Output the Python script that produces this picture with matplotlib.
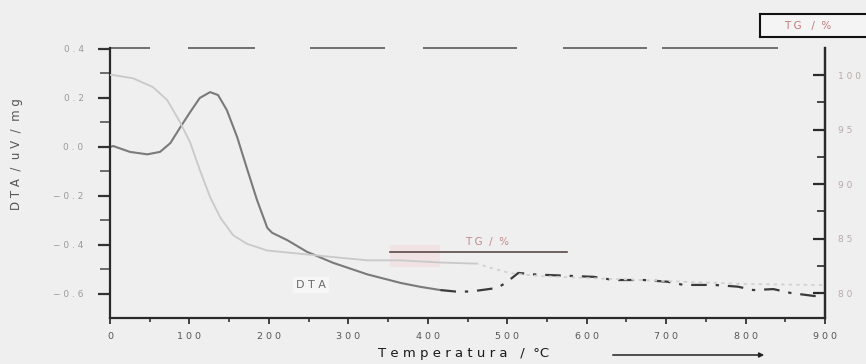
import matplotlib
matplotlib.use("Agg")
import matplotlib.pyplot as plt
from matplotlib.patches import Rectangle, FancyArrowPatch
from matplotlib.lines import Line2D
from matplotlib.ticker import MultipleLocator, FixedLocator

# ---- data -------------------------------------------------------------
temp_dta = [0, 4, 25, 47, 63, 76, 88, 101, 113, 126, 136, 147, 160, 173,
            185, 198, 204, 223, 248, 281, 324, 366, 391, 416]
dta = [0.0, 0.004, -0.02, -0.03, -0.02, 0.016, 0.078, 0.143, 0.2, 0.224,
       0.212, 0.151, 0.041, -0.094, -0.216, -0.33, -0.35, -0.38, -0.428,
       -0.473, -0.52, -0.555, -0.571, -0.584]

temp_dta_tail = [416, 435, 454, 488, 500, 514, 533, 570, 609, 634, 672, 702,
                 722, 760, 790, 810, 835, 857, 886, 900]
dta_tail = [-0.584, -0.59, -0.59, -0.575, -0.55, -0.514, -0.52, -0.525,
            -0.53, -0.543, -0.543, -0.55, -0.563, -0.563, -0.57, -0.584,
            -0.58, -0.596, -0.608, -0.61]

temp_tg = [0, 4, 29, 54, 72, 88, 101, 113, 126, 139, 155, 173, 198, 240,
           281, 324, 366, 416, 460]
tg = [100.0, 100.0, 99.7, 98.9, 97.7, 95.7, 93.8, 91.3, 88.8, 86.9, 85.3,
      84.5, 83.9, 83.6, 83.3, 83.0, 83.0, 82.8, 82.7]

temp_tg_tail = [460, 480, 504, 540, 600, 700, 800, 900]
tg_tail = [82.75, 82.29, 81.83, 81.56, 81.38, 81.1, 80.83, 80.73]

x_ticks = [0, 100, 200, 300, 400, 500, 600, 700, 800, 900]
dta_ticks = [0.4, 0.2, 0.0, -0.2, -0.4, -0.6]
tg_ticks = [100, 95, 90, 85, 80]


def spaced(s):
    return " ".join(s)


# ---- figure -----------------------------------------------------------
bg = "#efefef"
W, H = 866, 364
fig = plt.figure(figsize=(W / 100, H / 100), dpi=100, facecolor=bg)
ax = fig.add_axes([110 / W, 1 - 318 / H, 715 / W, 270 / H], facecolor=bg)
ax2 = ax.twinx()

# curves
ax.plot(temp_dta, dta, color="#7a7a7a", lw=1.5, solid_capstyle="round")
ax.plot(temp_dta_tail, dta_tail, color="#3a3a3a", lw=1.6,
        dashes=(7, 4, 1.5, 4))
ax2.plot(temp_tg, tg, color="#c9c9c9", lw=1.3)
ax2.plot(temp_tg_tail, tg_tail, color="#cfcfcf", lw=1.2, dashes=(2, 2.5))

# limits
ax.set_xlim(0, 900)
ax.set_ylim(-0.698, 0.404)
ax2.set_ylim(77.71, 102.48)

# spines
ax.spines["top"].set_visible(False)
ax2.spines["top"].set_visible(False)
for s in ("left", "bottom", "right"):
    ax.spines[s].set_color("#2a2a2a")
    ax.spines[s].set_linewidth(1.6)
ax2.spines["right"].set_color("#2a2a2a")
ax2.spines["right"].set_linewidth(1.6)
ax2.spines["left"].set_visible(False)
ax2.spines["bottom"].set_visible(False)

# broken upper frame line
lw_top = 1.2
gaps_px = [40, 38, 67, 55, 75, 38, 94, 46, 84, 15, 116, 100]
ax.plot([0, 1], [1, 1], transform=ax.transAxes, color="#5a5a5a", lw=lw_top,
        dashes=[g * 0.72 / lw_top for g in gaps_px], clip_on=False)

# x ticks
ax.xaxis.set_major_locator(FixedLocator(x_ticks))
ax.xaxis.set_minor_locator(MultipleLocator(50))
ax.set_xticklabels([spaced(str(v)) for v in x_ticks])
ax.tick_params(axis="x", which="major", direction="out", length=4, width=1.3,
               color="#333333", labelsize=6.8, labelcolor="#555555", pad=6)
ax.tick_params(axis="x", which="minor", direction="out", length=3, width=1.2,
               color="#333333")

# left (DTA) ticks
ax.yaxis.set_major_locator(FixedLocator(dta_ticks))
ax.yaxis.set_minor_locator(MultipleLocator(0.1))
ax.set_yticklabels([spaced(f"{v:.1f}".replace("-", "\u2212")) for v in dta_ticks])
ax.tick_params(axis="y", which="major", direction="out", length=9, width=1.6,
               color="#333333", labelsize=6.5, labelcolor="#9a9a9a", pad=10)
ax.tick_params(axis="y", which="minor", direction="out", length=7, width=1.2,
               color="#555555")

# right (TG) ticks
ax2.yaxis.set_major_locator(FixedLocator(tg_ticks))
ax2.yaxis.set_minor_locator(MultipleLocator(2.5))
ax2.set_yticklabels([spaced(str(v)) for v in tg_ticks])
ax2.tick_params(axis="y", which="major", direction="in", length=9, width=1.6,
                color="#2a2a2a", labelsize=6.5, labelcolor="#b9a8a8", pad=9)
ax2.tick_params(axis="y", which="minor", direction="in", length=6, width=1.2,
                color="#2a2a2a")

# in-plot labels
ax.add_patch(Rectangle((0.392, 0.19), 0.07, 0.08, transform=ax.transAxes,
                       facecolor="#f3dede", edgecolor="none", alpha=0.7,
                       zorder=0.5))
ax.plot([0.392, 0.639], [0.244, 0.244], transform=ax.transAxes,
        color="#5a4848", lw=1.2)
ax.text(0.527, 0.281, "T G  /  %", transform=ax.transAxes, ha="center",
        va="center", fontsize=7.5, color="#c08a8a")
ax.text(0.281, 0.122, "D T A", transform=ax.transAxes, ha="center",
        va="center", fontsize=8, color="#6a6a6a",
        bbox=dict(boxstyle="square,pad=0.25", facecolor="#f6f6f6",
                  edgecolor="none"))

# open-ended TG label box in the upper right corner
box_l, box_r, box_t, box_b = 760 / W, 1.03, 1 - 14 / H, 1 - 37 / H
fig.add_artist(Rectangle((box_l, box_b), box_r - box_l, box_t - box_b,
                         transform=fig.transFigure, facecolor="#f4f4f4",
                         edgecolor="none", linewidth=0))
for xs, ys in (([box_l, box_r], [box_t, box_t]),
               ([box_l, box_r], [box_b, box_b]),
               ([box_l, box_l], [box_b, box_t])):
    fig.add_artist(Line2D(xs, ys, transform=fig.transFigure,
                          color="#111111", lw=1.5))
fig.text(808 / W, 1 - 25.5 / H, "T G   /  %", ha="center", va="center",
         fontsize=7.5, color="#c07a7a")

# axis titles
fig.text(17 / W, 1 - 154 / H, "D T A  /  u V  /  m g", rotation=90,
         ha="center", va="center", fontsize=8.5, color="#555555")
fig.text(464 / W, 1 - 353 / H, "T e m p e r a t u r a   /  °C",
         ha="center", va="center", fontsize=9.5, color="#1a1a1a")
fig.add_artist(FancyArrowPatch((610 / W, 1 - 355 / H), (767 / W, 1 - 355 / H),
                               transform=fig.transFigure, arrowstyle="-|>",
                               mutation_scale=7, lw=1.1, color="#222222"))

fig.savefig("out.png", dpi=100, facecolor=bg)
